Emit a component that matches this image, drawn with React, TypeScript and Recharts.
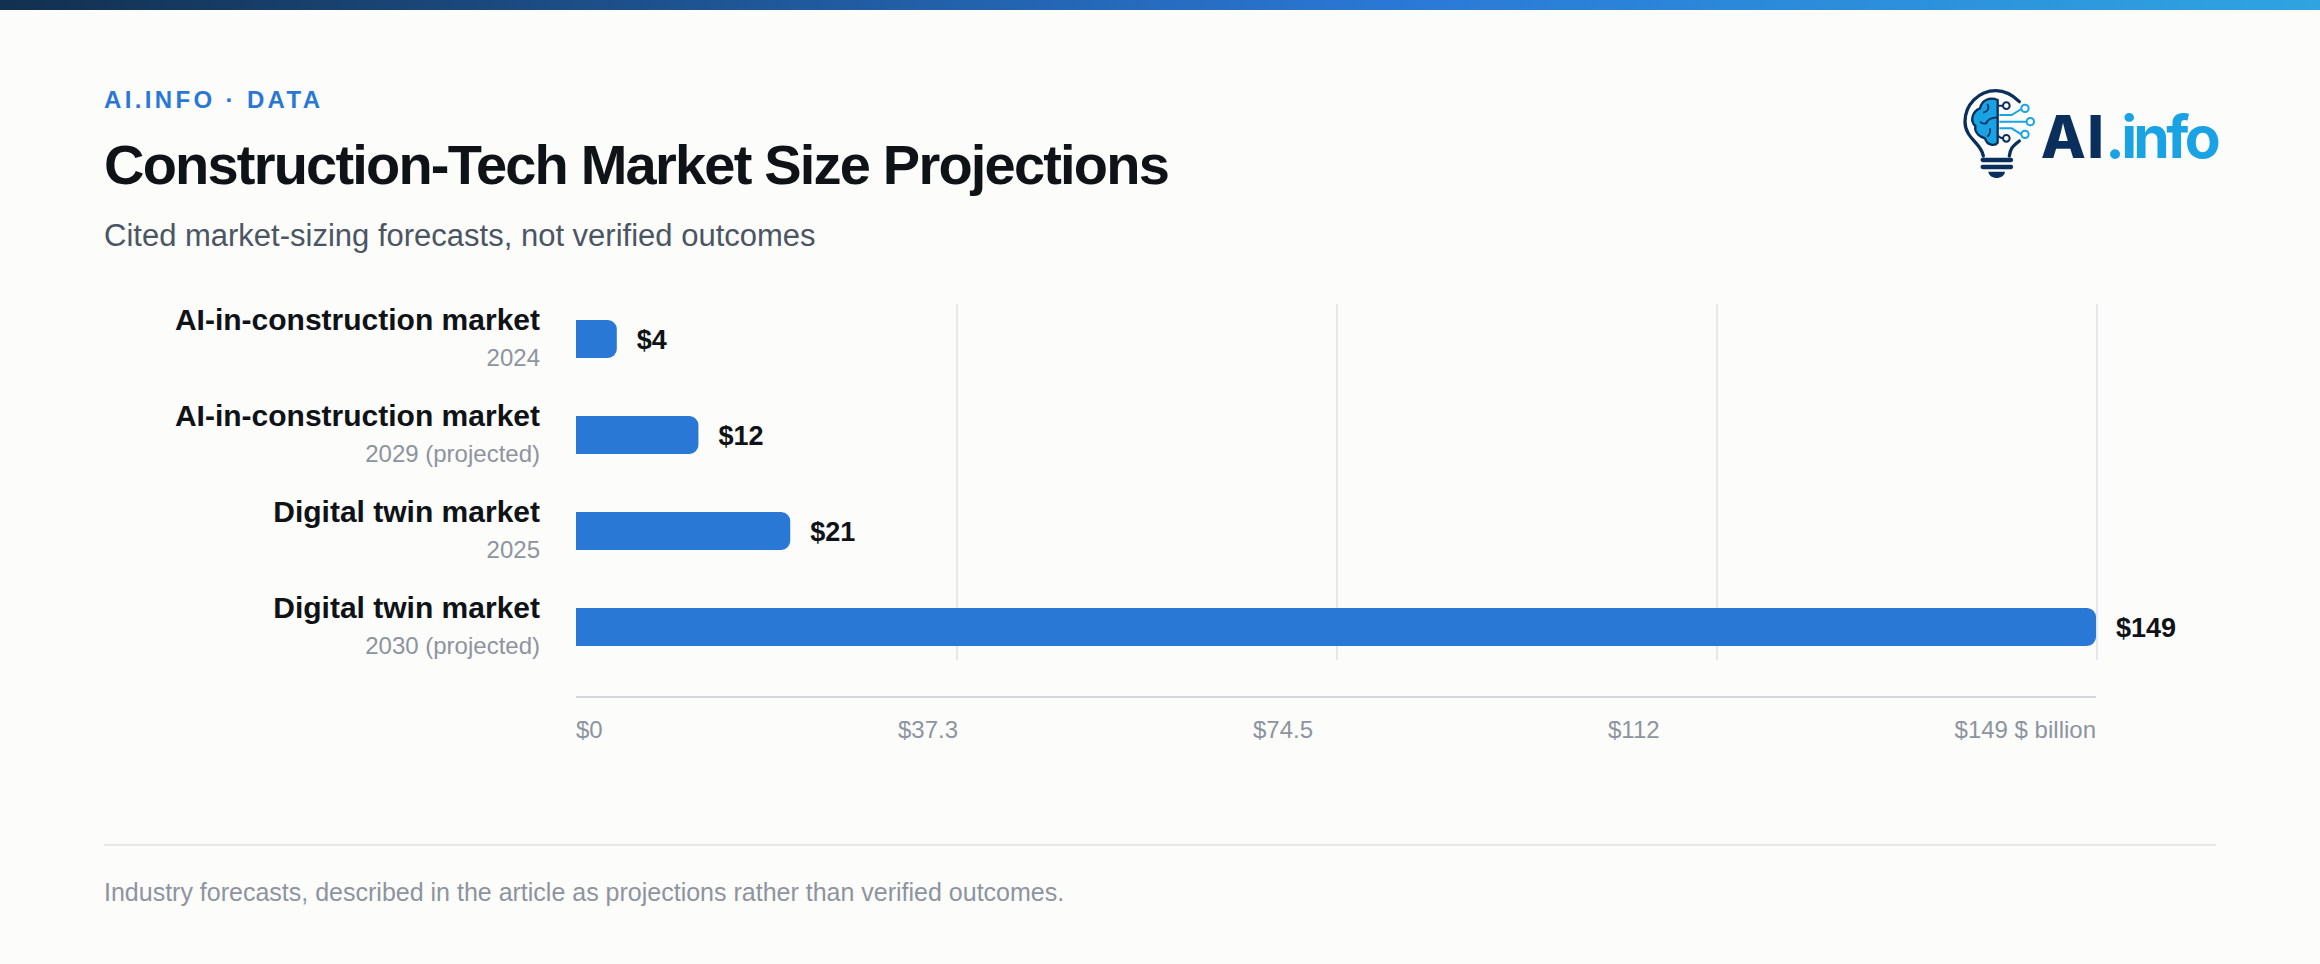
import { Bar, BarChart, CartesianGrid, LabelList, XAxis, YAxis } from "recharts";

const markets = ["AI-in-construction market", "AI-in-construction market", "Digital twin market", "Digital twin market"];
const periods = ["2024", "2029 (projected)", "2025", "2030 (projected)"];
const sizes = [4, 12, 21, 149];
const axisTicks = [0, 37.25, 74.5, 111.75, 149];
const axisLabels = ["$0", "$37.3", "$74.5", "$112", "$149 $ billion"];
// the source spreads these labels evenly, so they sit left of their gridlines
const labelShift = [0, -58, -83, -108, 0];

const rows = markets.map((market, i) => ({ key: i, market, period: periods[i], size: sizes[i] }));

const FONT = '"Liberation Sans", Arial, sans-serif';
const BLUE = "#2a78d6";
const MUTED = "#8d94a0";

function MarketTick({ y, payload }: any) {
  const i = payload.index;
  return (
    <g fontFamily={FONT}>
      <text x={540} y={y - 9} textAnchor="end" fontSize={30} fontWeight={700} fill="#0f1216">
        {markets[i]}
      </text>
      <text x={540} y={y + 27} textAnchor="end" fontSize={24} fill={MUTED}>
        {periods[i]}
      </text>
    </g>
  );
}

function ValueTick({ x, y, payload }: any) {
  const i = axisTicks.indexOf(payload.value);
  const last = i === axisTicks.length - 1;
  return (
    <text x={x + labelShift[i]} y={y + 33} textAnchor={last ? "end" : "start"} fontFamily={FONT} fontSize={24} fill={MUTED}>
      {axisLabels[i]}
    </text>
  );
}

function Logo() {
  const navy = "#0b2f5c";
  const sky = "#19a3e4";
  return (
    <svg
      style={{ position: "absolute", left: 1900, top: 0 }}
      width={420}
      height={220}
      viewBox="0 0 1260 660"
    >
      <g fill="none" stroke={navy} strokeWidth={10} strokeLinecap="round">
        <path d="M358 305 C335 282 310 272 288 272 C235 272 195 315 195 365 C195 415 245 430 250 468" />
        <path d="M358 423 C335 440 330 450 328 468" />
        <path d="M248 480 H333 M248 501 H333" strokeWidth={13} />
      </g>
      <path d="M265 515 H315 C312 540 268 540 265 515 Z" fill={navy} />
      <path
        d="M293 300 C270 290 245 300 240 325 C215 335 210 365 226 378 C222 402 245 412 255 415 C262 438 285 438 293 428 Z"
        fill={sky}
        stroke={navy}
        strokeWidth={7}
      />
      <path d="M262 312 C270 325 262 335 250 338 M293 352 C275 352 262 358 258 372 M240 365 C248 372 256 372 260 368 M270 385 C272 398 268 405 262 410" fill="none" stroke={navy} strokeWidth={5} />
      <g fill="none" stroke={navy} strokeWidth={6}>
        <path d="M295 317 H309 M295 408 C302 415 305 415 309 415" />
        <circle cx={319} cy={317} r={10} />
        <circle cx={319} cy={415} r={10} />
      </g>
      <g fill="none" stroke={sky} strokeWidth={6}>
        <path d="M298 345 H335 L364 327 M298 365 H380 M298 385 H335 L364 403" />
        <circle cx={375} cy={325} r={11} />
        <circle cx={391} cy={365} r={11} />
        <circle cx={375} cy={403} r={11} />
      </g>
      <text x={422} y={475} fontFamily="Inter, sans-serif" fontWeight={800} fontSize={176} letterSpacing={4} fill={navy}>
        AI<tspan fill={sky} fontWeight={700} letterSpacing={-11}>.info</tspan>
      </text>
    </svg>
  );
}

export default function App() {
  return (
    <div style={{ position: "absolute", left: 0, top: 0, width: 2320, height: 964, background: "#fcfcfa", overflow: "hidden", fontFamily: FONT }}>
      <div style={{ height: 10, background: "linear-gradient(90deg, #12304f 0%, #2a78d6 60%, #2ea4e0 100%)" }} />
      <div style={{ position: "absolute", left: 104, top: 86, fontSize: 24, fontWeight: 700, letterSpacing: 3.36, color: BLUE, lineHeight: "28px" }}>
        AI.INFO · DATA
      </div>
      <div style={{ position: "absolute", left: 104, top: 133, fontSize: 56, fontWeight: 700, letterSpacing: -1.8, color: "#0f1216", lineHeight: "64px", whiteSpace: "nowrap" }}>
        Construction-Tech Market Size Projections
      </div>
      <div style={{ position: "absolute", left: 104, top: 218, fontSize: 31, color: "#4b5563", lineHeight: "36px" }}>
        Cited market-sizing forecasts, not verified outcomes
      </div>
      <Logo />
      <div style={{ position: "absolute", left: 0, top: 0 }}>
        <BarChart
          width={2320}
          height={964}
          layout="vertical"
          data={rows}
          margin={{ top: 291, right: 224, bottom: 0, left: 0 }}
          style={{ background: "transparent" }}
        >
          <CartesianGrid
            horizontal={false}
            verticalValues={axisTicks}
            vertical={({ x1, x2, y1, y2, index }: any) =>
              x1 === 576 ? <g key={index} /> : <line key={index} x1={x1 + 1} x2={x2 + 1} y1={y1 + 13} y2={y2 - 37} stroke="#e5e7eb" strokeWidth={2} />
            }
          />
          <XAxis
            type="number"
            domain={[0, 149]}
            ticks={axisTicks}
            interval={0}
            height={267}
            tick={<ValueTick />}
            tickLine={false}
            axisLine={{ stroke: "#d4d8dd", strokeWidth: 2 }}
          />
          <YAxis
            type="category"
            dataKey="key"
            width={576}
            padding={{ top: 0, bottom: 22 }}
            tick={<MarketTick />}
            tickLine={false}
            axisLine={false}
            interval={0}
          />
          <Bar dataKey="size" fill={BLUE} barSize={38} radius={[0, 9, 9, 0]} isAnimationActive={false}>
            <LabelList
              dataKey="size"
              position="right"
              offset={20}
              formatter={(v: any) => `$${v}`}
              style={{ fontFamily: FONT, fontSize: 27, fontWeight: 700, fill: "#0f1216" }}
            />
          </Bar>
        </BarChart>
      </div>
      <div style={{ position: "absolute", left: 104, width: 2112, top: 844, height: 2, background: "#e5e7eb" }} />
      <div style={{ position: "absolute", left: 104, top: 878, fontSize: 25, color: MUTED, lineHeight: "28px" }}>
        Industry forecasts, described in the article as projections rather than verified outcomes.
      </div>
    </div>
  );
}
